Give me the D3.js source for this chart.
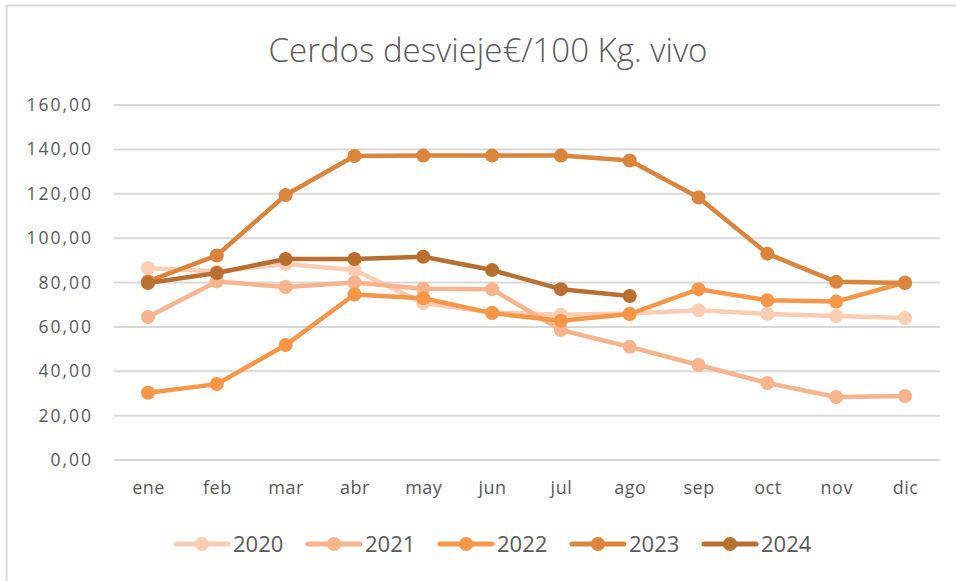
<!DOCTYPE html>
<html>
<head>
<meta charset="utf-8">
<script src="https://cdn.jsdelivr.net/npm/d3@7"></script>
<style>
  body { margin: 0; background: #fff; }
  text { font-family: "Open Sans", "Liberation Sans", sans-serif; fill: #595959; }
</style>
</head>
<body>
<div id="chart"></div>
<script>
// data
var months = ["ene","feb","mar","abr","may","jun","jul","ago","sep","oct","nov","dic"];
var years = ["2020","2021","2022","2023","2024"];
var colors = ["#FBCDB3","#F8B48C","#F79646","#DB843C","#B86F30"];
var v2020 = [86.5, 85, 88.3, 85.6, 70.7, 66.5, 65.5, 66, 67.5, 65.8, 64.9, 64];
var v2021 = [64.4, 80.5, 78, 80, 77.2, 77, 58.6, 51, 42.8, 34.7, 28.4, 28.8];
var v2022 = [30.3, 34.2, 51.8, 74.6, 72.9, 66.2, 62.8, 65.8, 77, 72, 71.4, 80];
var v2023 = [80.5, 92.2, 119.4, 137, 137.2, 137.2, 137.2, 135, 118.3, 93, 80.3, 79.8];
var v2024 = [79.8, 84.3, 90.6, 90.6, 91.6, 85.6, 77, 73.9];
var yTicks = [0, 20, 40, 60, 80, 100, 120, 140, 160];

var series = [v2020, v2021, v2022, v2023, v2024];

var W = 956, H = 581;
var svg = d3.select("#chart").append("svg")
    .attr("width", W).attr("height", H);

// chart frame (runs off the right/bottom of the window)
svg.append("rect")
    .attr("x", 6.5).attr("y", 5.5)
    .attr("width", 1000).attr("height", 1000)
    .attr("fill", "none").attr("stroke", "#d9d9d9").attr("stroke-width", 2);

svg.append("text")
    .attr("x", 488).attr("y", 62)
    .attr("text-anchor", "middle")
    .style("font-size", "33px")
    .style("font-weight", "300")
    .text("Cerdos desvieje€/100 Kg. vivo");

var x = d3.scalePoint().domain(months).range([148, 905]);
var y = d3.scaleLinear().domain([0, 160]).range([460, 105]);

// gridlines
svg.append("g").selectAll("line")
    .data(yTicks).join("line")
    .attr("x1", 114).attr("x2", 940)
    .attr("y1", d => y(d)).attr("y2", d => y(d))
    .attr("stroke", "#d9d9d9").attr("stroke-width", 2);

var fmt = d => d3.format(".2f")(d).replace(".", ",");

var yAxis = svg.append("g")
    .attr("transform", "translate(93,0)")
    .call(d3.axisLeft(y).tickValues(yTicks).tickFormat(fmt).tickSize(0).tickPadding(0));
yAxis.select(".domain").remove();
yAxis.selectAll("text")
    .style("font-size", "17.5px")
    .style("letter-spacing", "2px")
    .attr("fill", "#595959");

var xAxis = svg.append("g")
    .attr("transform", "translate(0,460)")
    .call(d3.axisBottom(x).tickSize(0).tickPadding(21));
xAxis.select(".domain").remove();
xAxis.selectAll("text")
    .style("font-size", "18px")
    .style("letter-spacing", "0.5px")
    .attr("fill", "#595959");

var line = d3.line()
    .x((d, i) => x(months[i]))
    .y(d => y(d));

series.forEach(function(vals, k) {
  var g = svg.append("g");
  g.append("path")
      .datum(vals)
      .attr("d", line)
      .attr("fill", "none")
      .attr("stroke", colors[k])
      .attr("stroke-width", 4.5)
      .attr("stroke-linejoin", "round")
      .attr("stroke-linecap", "round");
  g.selectAll("circle")
      .data(vals).join("circle")
      .attr("cx", (d, i) => x(months[i]))
      .attr("cy", d => y(d))
      .attr("r", 7)
      .attr("fill", colors[k]);
});

// legend
var leg = svg.append("g").attr("transform", "translate(176,544)");
var items = leg.selectAll("g").data(years).join("g")
    .attr("transform", (d, i) => "translate(" + (i * 132) + ",0)");
items.append("line")
    .attr("x1", 0).attr("x2", 52)
    .attr("stroke", (d, i) => colors[i])
    .attr("stroke-width", 5)
    .attr("stroke-linecap", "round");
items.append("circle")
    .attr("cx", 26).attr("r", 7)
    .attr("fill", (d, i) => colors[i]);
items.append("text")
    .attr("x", 57).attr("y", 8)
    .style("font-size", "22px")
    .text(d => d);
</script>
</body>
</html>
